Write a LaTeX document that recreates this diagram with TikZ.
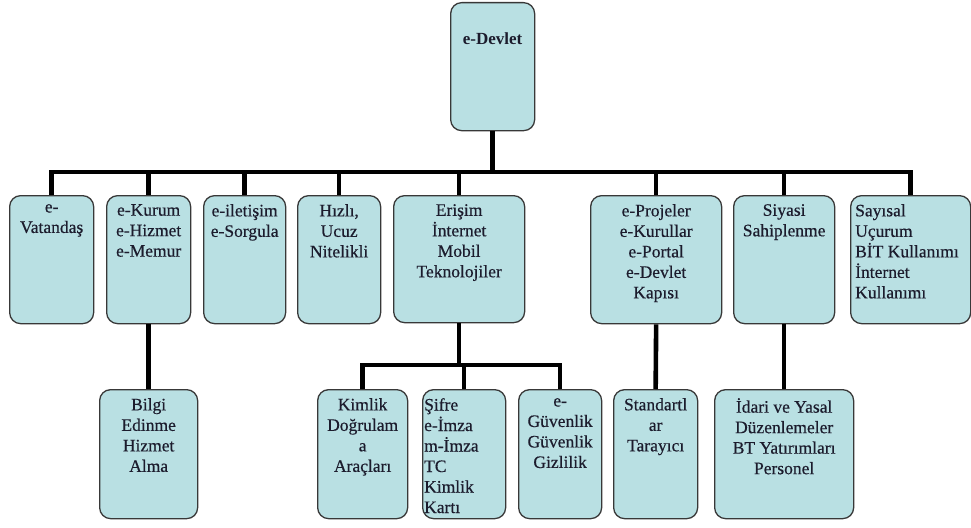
\documentclass[tikz,border=0pt]{standalone}
\usepackage{fontspec}
\setmainfont{Liberation Serif}
% slightly heavier face for the box labels
\newfontfamily\lblfont[FakeBold=0.45]{Liberation Serif}
\begin{document}
\begin{tikzpicture}[x=1pt,y=-1pt,
  box/.style={draw=black!78, line width=1.3pt, fill=boxfill, rounded corners=11pt,
    anchor=north west, inner sep=0pt, minimum height=128pt},
  lbl/.style={anchor=north, inner sep=0pt, align=center, text=txtcol,
    font=\lblfont\fontsize{17.5}{20.5}\selectfont},
  lbll/.style={lbl, anchor=north west, align=left},
  link/.style={line width=4.6pt, draw=black}]
\definecolor{boxfill}{RGB}{185,224,227}
\definecolor{txtcol}{RGB}{28,28,45}
\useasboundingbox (0,0) rectangle (971,527);

% root
\node[box, minimum width=84pt] (root) at (450,2) {};
\node[lbl, font=\rmfamily\fontsize{17}{20}\selectfont\bfseries] (troot) at ([yshift=-31pt]root.north) {e-Devlet};

% first level
\node[box, minimum width=84pt]  (v1) at (9,195) {};
\node[box, minimum width=84pt]  (v2) at (106,195) {};
\node[box, minimum width=82pt]  (v3) at (203,195) {};
\node[box, minimum width=83pt]  (v4) at (297,195) {};
\node[box, minimum width=131pt, minimum height=127pt] (v5) at (393,195) {};
\node[box, minimum width=131pt] (v6) at (590,195) {};
\node[box, minimum width=101pt] (v7) at (733,195) {};
\node[box, minimum width=120pt] (v8) at (850,195) {};

\node[lbl] (t1) at ([yshift=-9pt]v1.north) {e-\\Vatandaş};
\node[lbl] (t2) at ([yshift=-9pt]v2.north) {e-Kurum\\e-Hizmet\\e-Memur};
\node[lbl] (t3) at ([yshift=-9pt]v3.north) {e-iletişim\\e-Sorgula};
\node[lbl] (t4) at ([yshift=-9pt]v4.north) {Hızlı,\\Ucuz\\Nitelikli};
\node[lbl] (t5) at ([yshift=-9pt]v5.north) {Erişim\\İnternet\\Mobil\\Teknolojiler};
\node[lbl] (t6) at ([yshift=-9pt]v6.north) {e-Projeler\\e-Kurullar\\e-Portal\\e-Devlet\\Kapısı};
\node[lbl] (t7) at ([yshift=-9pt]v7.north) {Siyasi\\Sahiplenme};
\node[lbll] (t8) at ([shift={(5pt,-9pt)}]v8.north west) {Sayısal\\Uçurum\\BİT Kullanımı\\İnternet\\Kullanımı};

% second level
\node[box, minimum width=98pt, minimum height=129pt]  (b1) at (99,389) {};
\node[box, minimum width=90pt, minimum height=129pt]  (b2) at (317,389) {};
\node[box, minimum width=83pt, minimum height=129pt]  (b3) at (422,389) {};
\node[box, minimum width=83pt, minimum height=129pt]  (b4) at (518,389) {};
\node[box, minimum width=84pt, minimum height=129pt]  (b5) at (613,389) {};
\node[box, minimum width=139pt, minimum height=129pt] (b6) at (714,389) {};

\node[lbl] (s1) at ([yshift=-9pt]b1.north) {Bilgi\\Edinme\\Hizmet\\Alma};
\node[lbl] (s2) at ([yshift=-9pt]b2.north) {Kimlik\\Doğrulam\\a\\Araçları};
\node[lbll] (s3) at ([shift={(2pt,-9pt)}]b3.north west) {Şifre\\e-İmza\\m-İmza\\TC\\Kimlik\\Kartı};
\node[lbl] (s4) at ([yshift=-9pt]b4.north) {e-\\Güvenlik\\Güvenlik\\Gizlilik};
\node[lbl] (s5) at ([yshift=-9pt]b5.north) {Standartl\\ar\\Tarayıcı};
\node[lbl] (s6) at ([yshift=-9pt]b6.north) {İdari ve Yasal\\Düzenlemeler\\BT Yatırımları\\Personel};

% connectors
\coordinate (bus) at (492,172);
\coordinate (sub) at (459,365);
\draw[link] (v1.north) |- (root.south |- bus) -| (v8.north);
\draw[link] (root.south) -- (root.south |- bus);
\foreach \n in {v2,v3,v4,v5,v6,v7}
  \draw[link] (\n.north) -- (\n.north |- bus);
\draw[link] (v2.south) -- (b1.north);
\draw[link] (v6.south) -- (b5.north);
\draw[link] (v7.south) -- (b6.north);
\draw[link] (b2.north) |- (v5.south |- sub) -| (b4.north);
\draw[link] (v5.south) -- (v5.south |- sub);
\draw[link] (b3.north) -- (b3.north |- sub);
\end{tikzpicture}
\end{document}
